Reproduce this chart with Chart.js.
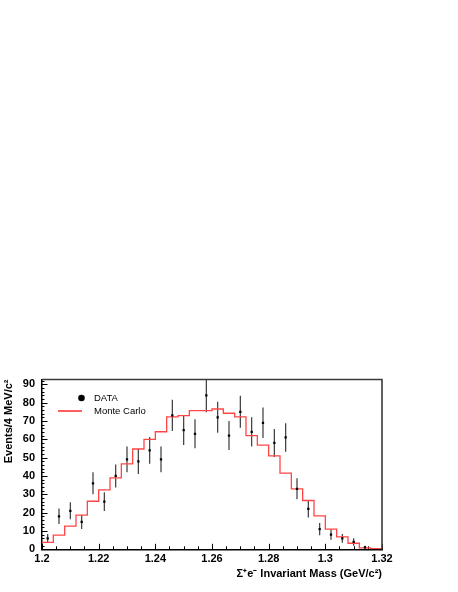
<!DOCTYPE html>
<html><head><meta charset="utf-8">
<script src="https://cdn.jsdelivr.net/npm/chart.js@4.4.1/dist/chart.umd.min.js"></script>
<style>html,body{margin:0;padding:0;background:#fff;}canvas{display:block;}</style>
</head><body>
<canvas id="c" width="458" height="592"></canvas>
<script>
// ---- data ----
const massCenters = [1.202,1.206,1.210,1.214,1.218,1.222,1.226,1.230,1.234,1.238,1.242,1.246,1.250,1.254,1.258,1.262,1.266,1.270,1.274,1.278,1.282,1.286,1.290,1.294,1.298,1.302,1.306,1.310,1.314];
const dataEvents  = [6,18,21,15,36,26,40,49,48,54,49,73,65,63,84,72,62,75,64,69,58,61,33,22,11,8,6,4,1];
const dataErrors  = [2.4,4.2,4.6,3.9,6.0,5.1,6.3,7.0,6.9,7.3,7.0,8.5,8.1,7.9,9.2,8.5,7.9,8.7,8.0,8.3,7.6,7.8,5.7,4.7,3.3,2.8,2.4,2.0,1.0];
const mcLowEdges  = [1.200,1.204,1.208,1.212,1.216,1.220,1.224,1.228,1.232,1.236,1.240,1.244,1.248,1.252,1.256,1.260,1.264,1.268,1.272,1.276,1.280,1.284,1.288,1.292,1.296,1.300,1.304,1.308,1.312,1.316];
const mcUpperEdge = 1.320;
const mcEvents    = [3.8,7.7,12.6,18.6,26.2,32.4,39.0,46.6,54.7,59.9,64.1,72.2,72.9,75.6,75.6,76.5,74.2,72.2,62.0,56.8,50.9,41.5,32.9,26.6,18.2,11.0,6.8,3.3,0.8,0.4];
const xTickValues = [1.2,1.22,1.24,1.26,1.28,1.3,1.32];
const yTickValues = [0,10,20,30,40,50,60,70,80,90];
const legendLabels = ['DATA','Monte Carlo'];
const xTitle = 'Σ\u207Ae\u207B Invariant Mass (GeV/c\u00B2)';
const yTitle = 'Events/4 MeV/c\u00B2';

const X_MIN = 1.2, X_MAX = 1.32, Y_MIN = 0, Y_MAX = 92.6;
const MC_COLOR = 'rgb(255,70,70)';

const dataPoints = massCenters.map((x,i)=>({x, y: dataEvents[i]}));
const mcPoints = mcLowEdges.map((x,i)=>({x, y: mcEvents[i]}));
mcPoints.push({x: mcUpperEdge, y: mcEvents[mcEvents.length-1]});

const tickFont = {family:'"Liberation Sans", Arial, sans-serif', size:11, weight:'bold'};
const titleFont = {family:'"Liberation Sans", Arial, sans-serif', size:11, weight:'bold'};

const decor = {
  id:'decor',
  beforeDatasetsDraw(chart){
    const {ctx, chartArea:a, scales:{x, y}} = chart;
    ctx.save();
    ctx.strokeStyle = '#000'; ctx.lineWidth = 1;
    for (let i=0;i<=24;i++){
      const v = X_MIN + i*0.005;
      const px = Math.round(x.getPixelForValue(v))+0.5;
      const len = (i%4===0)?5.5:3;
      ctx.beginPath(); ctx.moveTo(px, a.bottom); ctx.lineTo(px, a.bottom-len); ctx.stroke();
    }
    for (let i=0;i<=46;i++){
      const v = i*2;
      const py = Math.round(y.getPixelForValue(v))+0.5;
      const len = (i%5===0)?5.5:2.5;
      ctx.beginPath(); ctx.moveTo(a.left, py); ctx.lineTo(a.left+len, py); ctx.stroke();
    }
    ctx.beginPath(); ctx.rect(a.left, a.top, a.right-a.left, a.bottom-a.top); ctx.clip();
    ctx.strokeStyle = '#3a3a3a'; ctx.lineWidth = 1.2;
    massCenters.forEach((m,i)=>{
      const px = x.getPixelForValue(m);
      ctx.beginPath();
      ctx.moveTo(px, y.getPixelForValue(dataEvents[i]+dataErrors[i]));
      ctx.lineTo(px, y.getPixelForValue(Math.max(0,dataEvents[i]-dataErrors[i])));
      ctx.stroke();
    });
    ctx.restore();
  },
  afterDraw(chart){
    const {ctx, chartArea:a} = chart;
    ctx.save();
    ctx.strokeStyle = '#3a3a3a'; ctx.lineWidth = 1.6;
    ctx.beginPath(); ctx.moveTo(a.left, a.top); ctx.lineTo(a.right, a.top); ctx.lineTo(a.right, a.bottom); ctx.stroke();
    ctx.fillStyle = '#000';
    ctx.beginPath(); ctx.arc(81.5, 398, 3.3, 0, Math.PI*2); ctx.fill();
    ctx.strokeStyle = 'rgb(255,95,95)'; ctx.lineWidth = 2;
    ctx.beginPath(); ctx.moveTo(58, 411); ctx.lineTo(82, 411); ctx.stroke();
    ctx.font = '9.5px "Liberation Sans", Arial, sans-serif';
    ctx.textBaseline = 'middle'; ctx.textAlign = 'left';
    ctx.fillText(legendLabels[0], 94, 398);
    ctx.fillText(legendLabels[1], 94, 411);
    ctx.restore();
  }
};

new Chart(document.getElementById('c'), {
  data: {
    datasets: [
      {type:'line', label: legendLabels[1], data: mcPoints, stepped: true, borderColor: MC_COLOR, borderWidth: 1.3, pointRadius: 0, fill:false, order: 2},
      {type:'scatter', label: legendLabels[0], data: dataPoints, pointStyle:'rect', pointRadius: 1.6, backgroundColor:'#000', borderColor:'#000', borderWidth:0, order: 1}
    ]
  },
  options: {
    responsive:false, animation:false, devicePixelRatio:1,
    layout:{padding:{left:0, right:76, top:379.5, bottom:0}},
    plugins:{legend:{display:false}, tooltip:{enabled:false}},
    scales:{
      x:{type:'linear', min:X_MIN, max:X_MAX,
         afterFit(s){ s.height = 42.7; },
         afterBuildTicks(s){ s.ticks = xTickValues.map(v=>({value:v})); },
         grid:{display:false, drawTicks:false},
         border:{display:true, color:'#000', width:1.5},
         ticks:{padding:3, color:'#000', font:tickFont, maxRotation:0, autoSkip:false,
                callback:(v)=>String(parseFloat(Number(v).toFixed(2)))},
         title:{display:true, text:xTitle, align:'end', color:'#000', font:titleFont, padding:{top:0,bottom:11}}
      },
      y:{type:'linear', min:Y_MIN, max:Y_MAX,
         afterFit(s){ s.width = 42; },
         afterBuildTicks(s){ s.ticks = yTickValues.map(v=>({value:v})); },
         grid:{display:false, drawTicks:false},
         border:{display:true, color:'#000', width:1.5},
         ticks:{padding:7, color:'#000', font:tickFont, autoSkip:false},
         title:{display:true, text:yTitle, align:'end', color:'#000', font:titleFont, padding:{top:2,bottom:0}}
      }
    }
  },
  plugins:[decor]
});
</script>
</body></html>
